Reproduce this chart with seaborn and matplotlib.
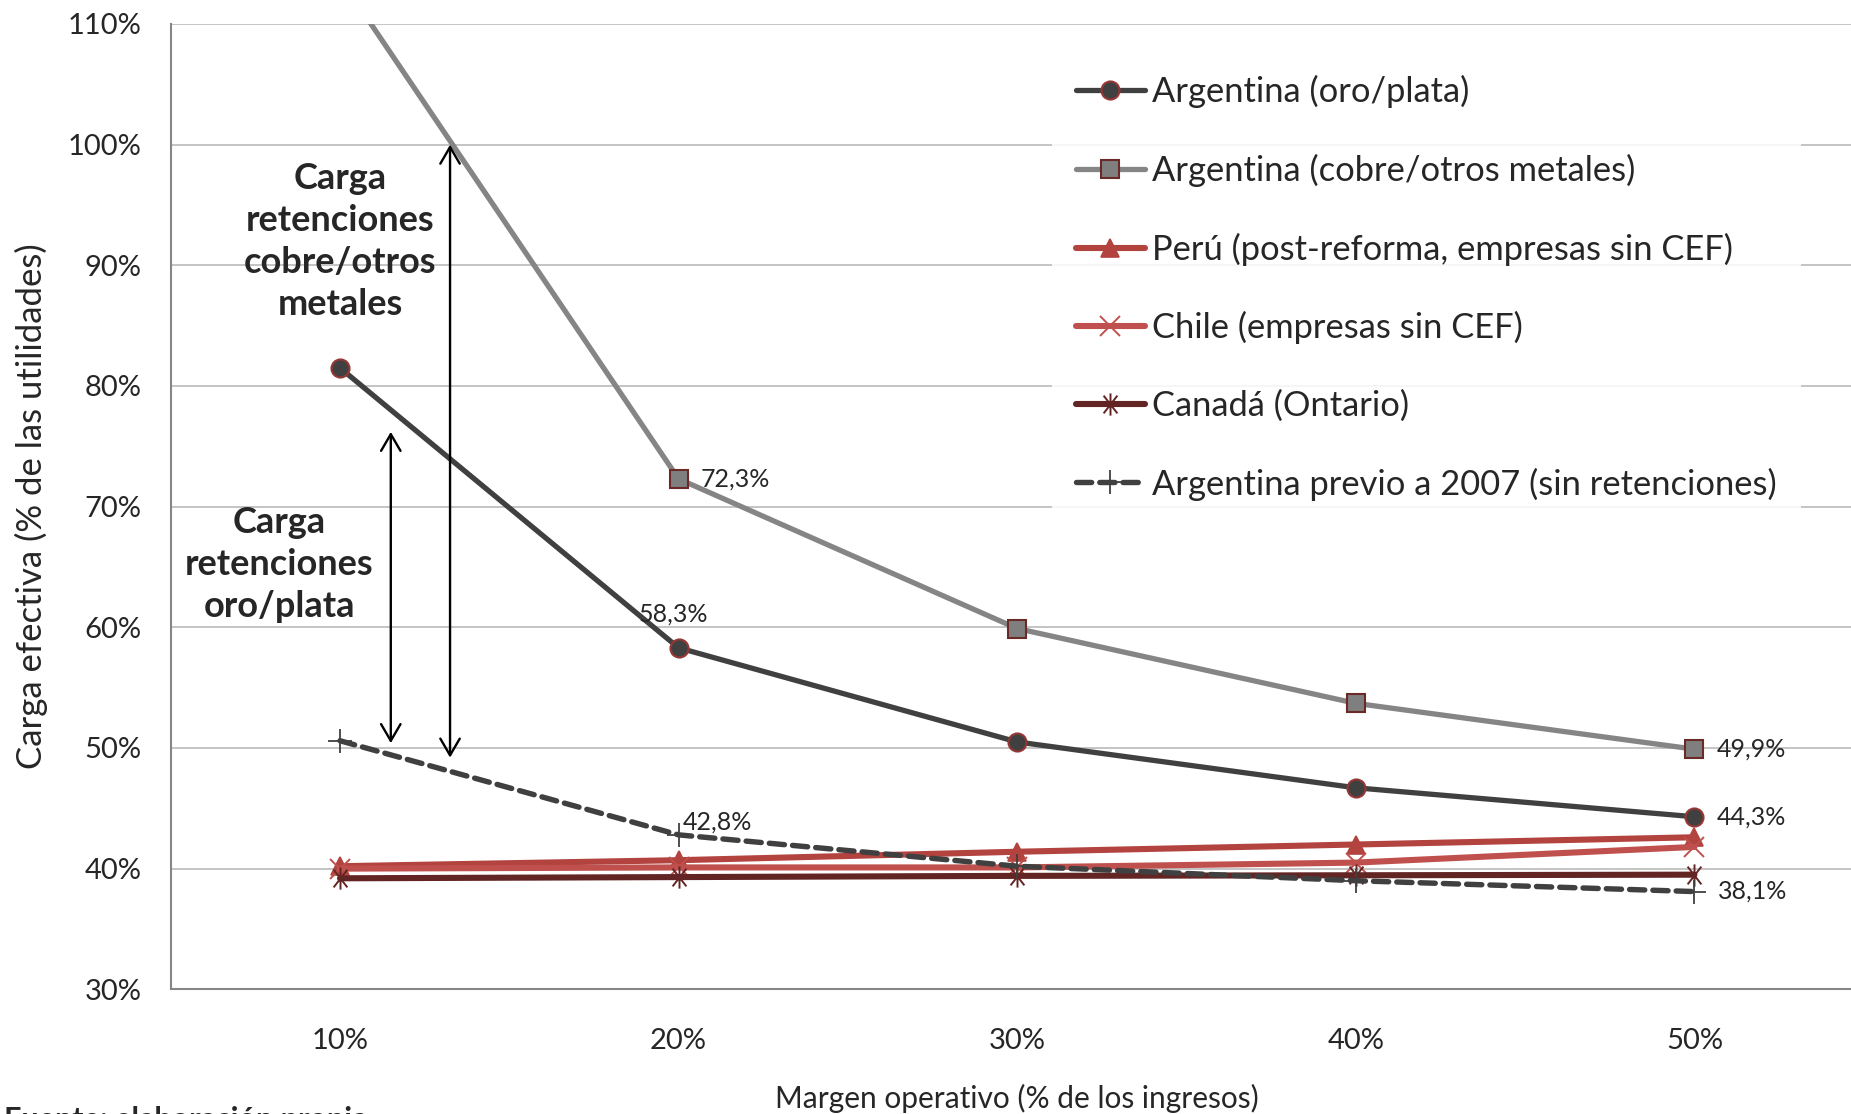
import matplotlib
matplotlib.use("Agg")
import matplotlib.pyplot as plt
import seaborn as sns
import pandas as pd
from matplotlib.path import Path

# ---------------- data ----------------
margins = [10, 20, 30, 40, 50]
x_labels = ["10%", "20%", "30%", "40%", "50%"]
y_ticks = [30, 40, 50, 60, 70, 80, 90, 100, 110]

series_names = [
    "Argentina (oro/plata)",
    "Argentina (cobre/otros metales)",
    "Perú (post-reforma, empresas sin CEF)",
    "Chile (empresas sin CEF)",
    "Canadá (Ontario)",
    "Argentina previo a 2007 (sin retenciones)",
]
arg_oro = [81.5, 58.3, 50.5, 46.7, 44.3]
arg_cobre = [113.8, 72.3, 59.9, 53.7, 49.9]
peru = [40.2, 40.7, 41.4, 42.0, 42.6]
chile = [40.0, 40.1, 40.1, 40.5, 41.8]
canada = [39.2, 39.3, 39.4, 39.45, 39.5]
arg_previo = [50.6, 42.8, 40.2, 39.0, 38.1]

values = [arg_oro, arg_cobre, peru, chile, canada, arg_previo]

x_title = "Margen operativo (% de los ingresos)"
y_title = "Carga efectiva (% de las utilidades)"
note_cobre = "Carga\nretenciones\ncobre/otros\nmetales"
note_oro = "Carga\nretenciones\noro/plata"
source_text = "Fuente: elaboración propia"

df = pd.DataFrame({
    "serie": [n for n, v in zip(series_names, values) for _ in v],
    "margen": [m for v in values for m in margins],
    "carga": [c for v in values for c in v],
})

# ---------------- style ----------------
sns.set_style("white")
plt.rcParams["font.family"] = ["Lato", "DejaVu Sans"]

star = Path([(0, -1), (0, 1), (-0.62, -0.8), (0.62, 0.8), (-0.62, 0.8), (0.62, -0.8)],
            [Path.MOVETO, Path.LINETO, Path.MOVETO, Path.LINETO, Path.MOVETO, Path.LINETO])

styles = [
    dict(color="#404040", lw=3.8, marker="o", ms=13, mfc="#404040", mec="#953735", mew=1.5, ls="-"),
    dict(color="#858585", lw=3.8, marker="s", ms=12.5, mfc="#7f7f7f", mec="#6b2a28", mew=1.5, ls="-"),
    dict(color="#b2433f", lw=4.4, marker="^", ms=13, mfc="#b2433f", mec="#b2433f", mew=1.2, ls="-"),
    dict(color="#c0504d", lw=4.4, marker="x", ms=14, mfc="#c0504d", mec="#c0504d", mew=1.4, ls="-"),
    dict(color="#632523", lw=4.4, marker=star, ms=16, mfc="none", mec="#632523", mew=1.4, ls="-"),
    dict(color="#404040", lw=3.9, marker="+", ms=17, mfc="#404040", mec="#404040", mew=1.3,
         ls=(0, (2.8, 1.5)), dash_capstyle="round"),
]

fig = plt.figure(figsize=(18.51, 11.14), dpi=100)
ax = fig.add_axes([170.7 / 1851, 1 - 989.3 / 1114, 5 * 338.6 / 1851, (989.3 - 24) / 1114])

for name, st in zip(series_names, styles):
    sub = df[df["serie"] == name]
    sns.lineplot(data=sub, x="margen", y="carga", ax=ax, label=name, **st)

# ---------------- axes ----------------
ax.set_xlim(5, 55)
ax.set_ylim(30, 110)
ax.set_xticks([5, 15, 25, 35, 45, 55])
ax.set_xticklabels([])
ax.set_xticks(margins, minor=True)
ax.set_xticklabels(x_labels, minor=True)
ax.tick_params(axis="x", which="major", length=8, width=1.5, color="#868686", direction="out")
ax.tick_params(axis="x", which="minor", length=0, pad=28, labelsize=21)
ax.set_yticks(y_ticks)
ax.set_yticklabels([f"{t}%" for t in y_ticks])
ax.tick_params(axis="y", length=8, width=1.5, color="#868686", direction="out", pad=13, labelsize=21)
ax.yaxis.grid(True, color="#c4c4c4", lw=1.4)
ax.xaxis.grid(False)
for s in ["top", "right"]:
    ax.spines[s].set_visible(False)
for s in ["left", "bottom"]:
    ax.spines[s].set_color("#868686")
    ax.spines[s].set_linewidth(1.5)
ax.set_xlabel("")
ax.set_ylabel("")
fig.text(861 * 1.1805 / 1851, 1 - 1098 / 1114, x_title, ha="center", va="center", fontsize=21.5)
fig.text(31 / 1851, 1 - 506 / 1114, y_title, ha="center", va="center", rotation=90, fontsize=25)

# ---------------- data labels ----------------
def fmt(v):
    return f"{v:.1f}%".replace(".", ",")

lab_kw = dict(textcoords="offset points", fontsize=18, va="center")
ax.annotate(fmt(arg_cobre[1]), (margins[1], arg_cobre[1]), xytext=(16, 0), ha="left", **lab_kw)
ax.annotate(fmt(arg_oro[1]), (margins[1], arg_oro[1]), xytext=(-4, 24), ha="center", **lab_kw)
ax.annotate(fmt(arg_previo[1]), (margins[1], arg_previo[1]), xytext=(3, 9), ha="left", **lab_kw)
ax.annotate(fmt(arg_cobre[4]), (margins[4], arg_cobre[4]), xytext=(16, 0), ha="left", **lab_kw)
ax.annotate(fmt(arg_oro[4]), (margins[4], arg_oro[4]), xytext=(16, 0), ha="left", **lab_kw)
ax.annotate(fmt(arg_previo[4]), (margins[4], arg_previo[4]), xytext=(17, 0), ha="left", **lab_kw)

# ---------------- arrows & notes ----------------
arrow_kw = dict(arrowstyle="<->,head_length=0.6,head_width=0.35", lw=1.7, color="black",
                shrinkA=0, shrinkB=0, mutation_scale=20)
ax.annotate("", xy=(13.25, 100), xytext=(13.25, 49.2), arrowprops=arrow_kw)
ax.annotate("", xy=(11.5, 76.2), xytext=(11.5, 50.4), arrowprops=arrow_kw)
ax.text(10.0, 92.0, note_cobre, ha="center", va="center", fontsize=26, fontweight="bold",
        linespacing=1.33)
ax.text(8.2, 65.2, note_oro, ha="center", va="center", fontsize=26, fontweight="bold",
        linespacing=1.33)

# ---------------- legend ----------------
leg = ax.legend(loc="upper left", bbox_to_anchor=(1035 / 1851, 1 - 34 / 1114),
                bbox_transform=fig.transFigure, fontsize=24.8, frameon=True,
                facecolor="white", edgecolor="none", framealpha=0.85, fancybox=False,
                handlelength=1.98, handletextpad=0.23, labelspacing=1.32, borderpad=0.7)

fig.text(4 / 1851, 1 - 1106 / 1114, source_text, ha="left", va="top", fontsize=22,
         fontweight="bold")

fig.savefig("out.png", dpi=100)
